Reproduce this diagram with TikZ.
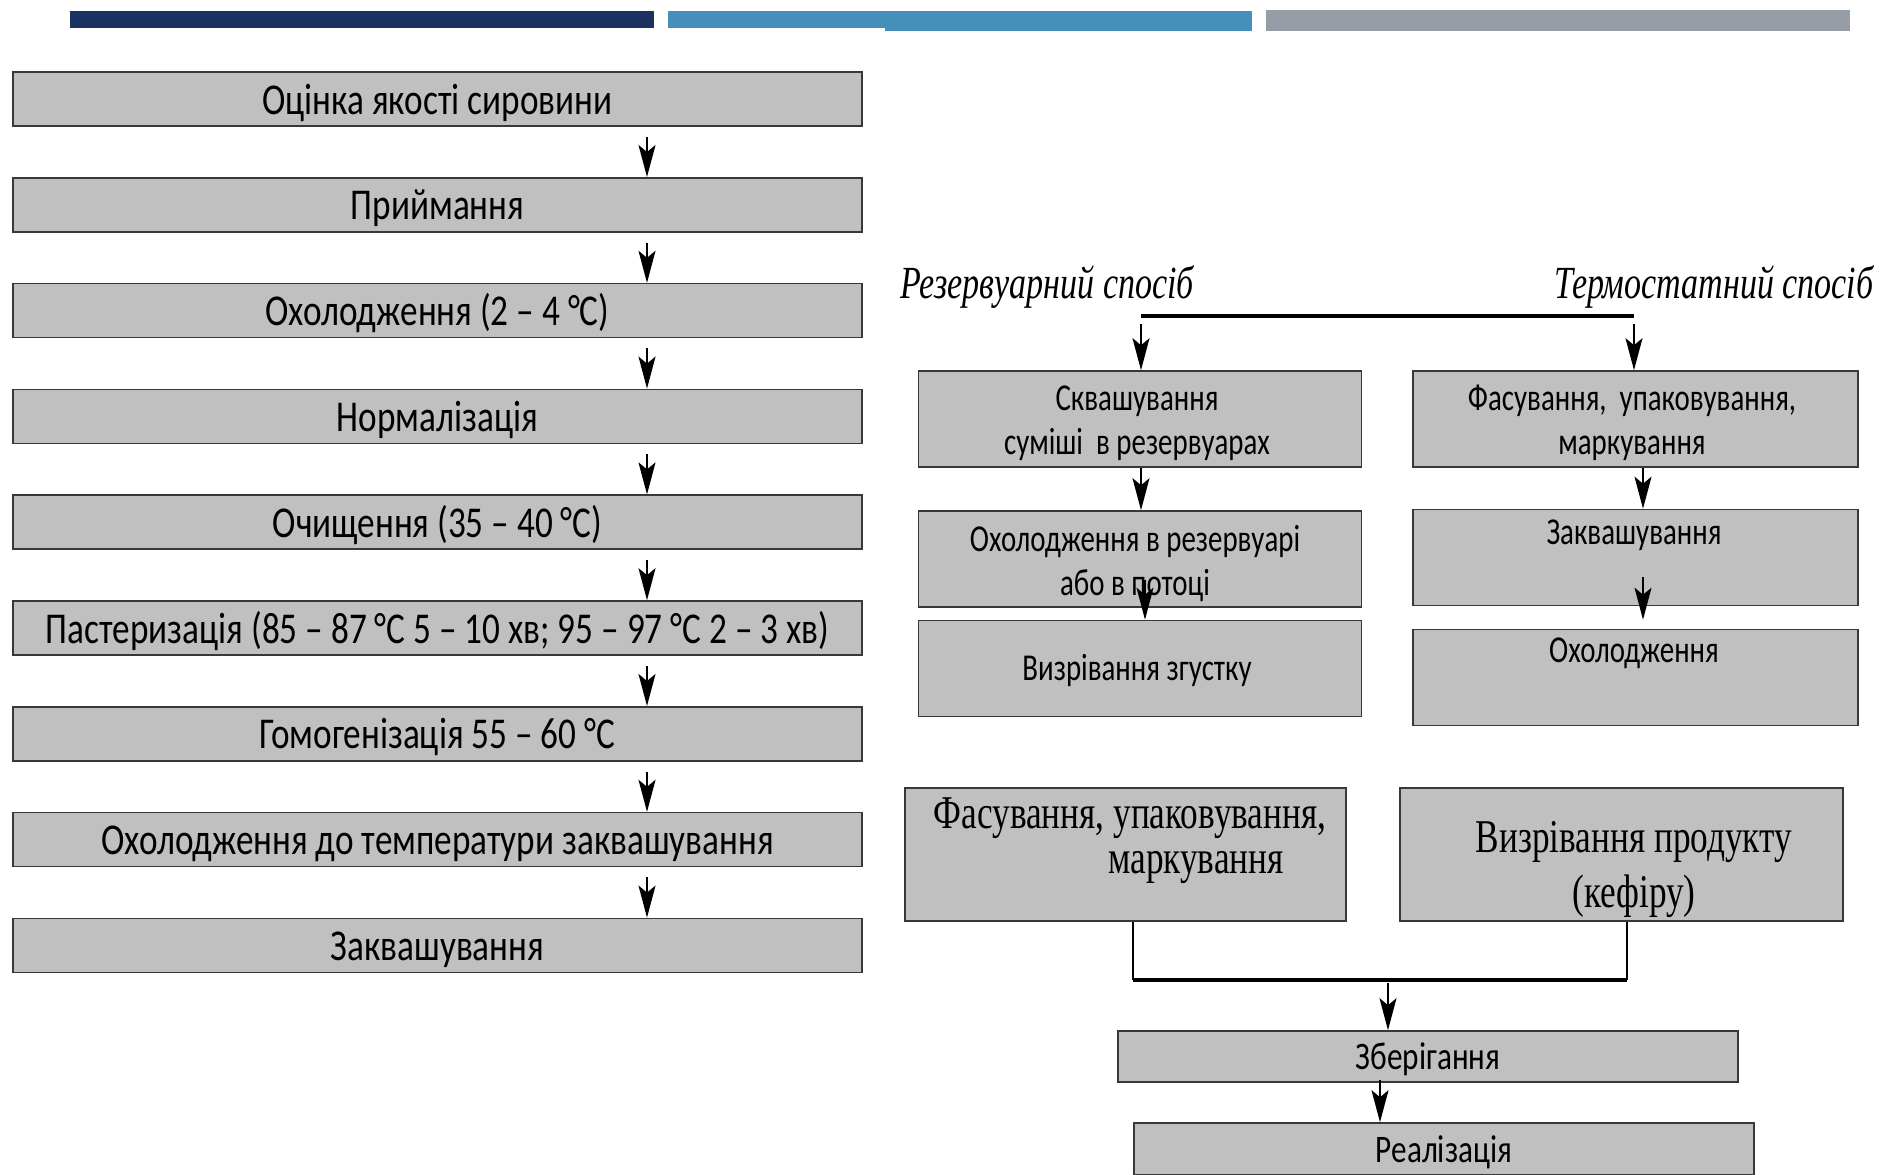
\documentclass[tikz,border=0pt]{standalone}
\usepackage{fontspec}
\setmainfont{Carlito}
\newfontfamily\boxfont{Carlito}[FakeStretch=0.8]
\newfontfamily\rfont{Carlito}[FakeStretch=0.76]
\newfontfamily\serfont{Liberation Serif}[FakeStretch=0.75]
\newfontfamily\itserfont{Liberation Serif Italic}[FakeStretch=0.74]
\usetikzlibrary{arrows.meta,calc}
\definecolor{navy}{HTML}{1B3160}
\definecolor{midblue}{HTML}{4590BA}
\definecolor{bargrey}{HTML}{969DA6}
\definecolor{boxfill}{HTML}{C0C0C0}
\definecolor{boxline}{HTML}{383838}
\begin{document}
\begin{tikzpicture}[x=1pt,y=-1pt,
  box/.style={draw=boxline, line width=1.6pt, fill=boxfill, inner sep=0pt, align=center},
  lbox/.style={box, minimum width=849pt, minimum height=54pt, text height=40pt, text depth=10pt, font=\fontsize{44}{50}\boxfont},
  rbox/.style={box, minimum width=443pt, minimum height=96pt},
  bbox/.style={box, minimum width=620pt, minimum height=51pt, text height=35pt, text depth=9pt, font=\fontsize{39}{44}\boxfont},
  rtxt/.style={inner sep=0pt, align=center, font=\fontsize{38}{44}\rfont},
  stxt/.style={inner sep=0pt, align=center, font=\fontsize{47}{55}\serfont},
  itxt/.style={inner sep=0pt, font=\fontsize{46}{50}\itserfont},
  arr/.style={line width=1.8pt, -{Stealth[length=32pt,width=17pt,inset=7pt]}},
  conn/.style={line width=1.6pt},
  thickconn/.style={line width=3.2pt}]
\useasboundingbox (0,0) rectangle (1882,1175);
% top bars
\fill[navy] (70,11) rectangle (654,28);
\fill[midblue] (668,11) rectangle (1252,28);
\fill[midblue] (885,11) rectangle (1252,31);
\fill[bargrey] (1266,10) rectangle (1850,31);
% left column
\node[lbox] (L1) at (437.5,99) {Оцінка якості сировини};
\node[lbox] (L2) at (437.5,204.8) {Приймання};
\node[lbox] (L3) at (437.5,310.6) {Охолодження (2 – 4 °C)};
\node[lbox] (L4) at (437.5,416.4) {Нормалізація};
\node[lbox] (L5) at (437.5,522.2) {Очищення (35 – 40 °C)};
\node[lbox] (L6) at (437.5,628) {Пастеризація (85 – 87 °C 5 – 10 хв; 95 – 97 °C 2 – 3 хв)};
\node[lbox] (L7) at (437.5,733.8) {Гомогенізація 55 – 60 °C};
\node[lbox] (L8) at (437.5,839.6) {Охолодження до температури заквашування};
\node[lbox] (L9) at (437.5,945.4) {Заквашування};
\foreach \a/\b in {L1/L2,L2/L3,L3/L4,L4/L5,L5/L6,L6/L7,L7/L8,L8/L9}
  \draw[arr] ($(\a.south)+(209.5,10)$) -- ($(\b.north)+(209.5,0)$);
% method labels
\node[itxt] (lr) at (1047,287) {Резервуарний спосіб};
\node[itxt] (lt) at (1714,287) {Термостатний спосіб};
% right boxes
\node[rbox] (A1) at (1140,419) {};
\node[rtxt] (A1t) at (1137,423) {Сквашування\\суміші\ \ в резервуарах};
\node[rbox, minimum width=445pt] (B1) at (1635.5,419) {};
\node[rtxt] (B1t) at (1632,423) {Фасування,\ \ упаковування,\\маркування};
\node[rbox] (A2) at (1140,559) {};
\node[rtxt] (A2t) at (1135,564) {Охолодження в резервуарі\\або в потоці};
\node[rbox, minimum width=445pt] (B2) at (1635.5,557.5) {};
\node[rtxt] (B2t) at (1634,535) {Заквашування};
\node[rbox] (A3) at (1140,668.5) {};
\node[rtxt] (A3t) at (1137,670) {Визрівання згустку};
\node[rbox, minimum width=445pt] (B3) at (1635.5,677.5) {};
\node[rtxt] (B3t) at (1634,653) {Охолодження};
% split line
\coordinate (sl) at (1141,316);
\coordinate (sr) at (1634,316);
\draw[thickconn] (sl) -- (sr);
\draw[arr, shorten <=8pt] (sl) -- (sl |- A1.north);
\draw[arr, shorten <=8pt] (sr) -- (sr |- B1.north);
\draw[arr] ($(A1.south)+(1,0)$) -- ($(A2.north)+(1,0)$);
\draw[arr] ($(A2.south)+(5,-28)$) -- ($(A3.north)+(5,0)$);
\draw[arr] ($(B1.south)+(7.5,0)$) -- ($(B2.north)+(7.5,0)$);
\draw[arr] ($(B2.south)+(7.5,-29)$) -- ($(B3.north)+(7.5,-9)$);
% lower boxes
\node[box, minimum width=441pt, minimum height=133pt] (C1) at (1125.5,854.5) {};
\node[stxt] (C1a) at (1130,818) {Фасування, упаковування,};
\node[stxt] (C1b) at (1196,867) {маркування};
\node[box, minimum width=443pt, minimum height=133pt] (C2) at (1621.5,854.5) {};
\node[stxt] (C2t) at (1634,869.5) {Визрівання продукту\\(кефіру)};
% merge
\coordinate (ml) at (1133,980);
\coordinate (mr) at (1627,980);
\coordinate (mid) at (1388,980);
\draw[conn] (C1.south -| ml) -- (ml);
\draw[conn] (C2.south -| mr) -- (mr);
\draw[thickconn] (ml) -- (mr);
\node[bbox] (S) at (1428,1056.5) {Зберігання};
\node[bbox, minimum height=52pt] (R) at (1444,1149) {Реалізація};
\draw[arr, shorten <=3pt] (mid) -- (mid |- S.north);
\draw[arr] ($(S.south)+(-48,-3)$) -- ($(R.north)+(-64,0)$);
\end{tikzpicture}
\end{document}
